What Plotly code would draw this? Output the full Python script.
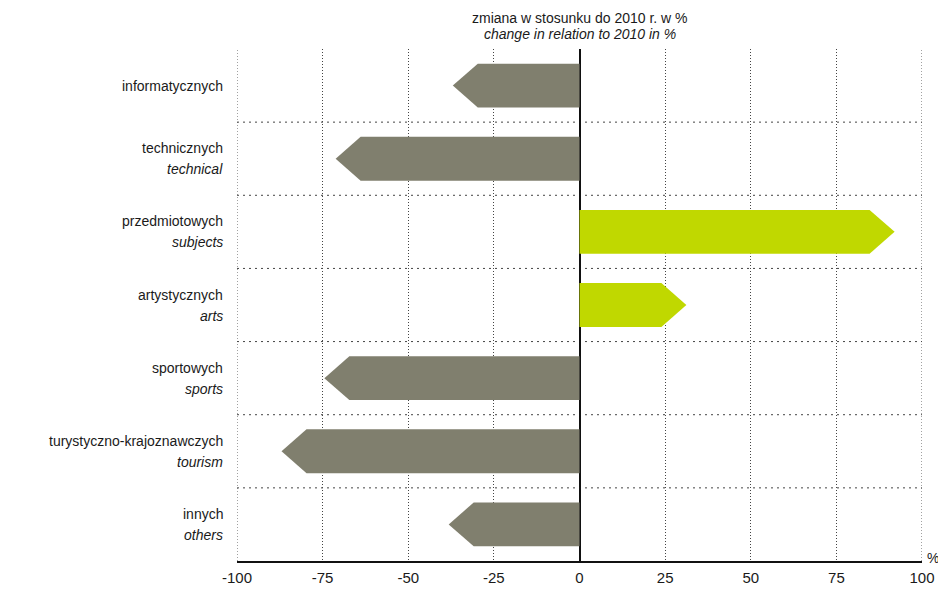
import plotly.graph_objects as go

categories_pl = ["informatycznych", "technicznych", "przedmiotowych", "artystycznych",
                 "sportowych", "turystyczno-krajoznawczych", "innych"]
categories_en = ["", "technical", "subjects", "arts", "sports", "tourism", "others"]
values = [-37, -71.2, 92, 31.2, -74.5, -87, -38.2]
x_ticks = [-100, -75, -50, -25, 0, 25, 50, 75, 100]

GRAY = "#807f6e"
GREEN = "#c0d800"
FONT = "Liberation Sans, Arial, sans-serif"
HALF = 0.3      # half bar thickness (category units)
HEAD = 7.3      # arrow head length (value units)

fig = go.Figure()
for i, v in enumerate(values):
    s = 1 if v > 0 else -1
    xs = [0, v - s * HEAD, v, v - s * HEAD, 0, 0]
    ys = [i - HALF, i - HALF, i, i + HALF, i + HALF, i - HALF]
    fig.add_trace(go.Scatter(x=xs, y=ys, mode="lines", fill="toself",
                             fillcolor=GREEN if v > 0 else GRAY,
                             line=dict(width=0, color=GREEN if v > 0 else GRAY),
                             hoverinfo="skip", showlegend=False))

# horizontal dotted separators between categories
for k in range(len(values) - 1):
    fig.add_shape(type="line", xref="x", yref="y", x0=-100, x1=100, y0=k + 0.5, y1=k + 0.5,
                  line=dict(color="#444", width=1, dash="2px,4px"), layer="below")

# dotted gridlines at the range edges (plotly hides edge gridlines)
for xv in (x_ticks[0], x_ticks[-1]):
    fig.add_shape(type="line", xref="x", yref="paper", x0=xv, x1=xv, y0=0, y1=1,
                  line=dict(color="#444", width=1, dash="1px,2px"), layer="below")

annotations = []
for i, (pl, en) in enumerate(zip(categories_pl, categories_en)):
    if en:
        annotations.append(dict(text=pl, x=0, xref="paper", y=i, yref="y", xanchor="right",
                                yanchor="middle", xshift=-12, yshift=10.5, showarrow=False,
                                font=dict(size=14)))
        annotations.append(dict(text="<i>" + en + "</i>", x=0, xref="paper", y=i, yref="y",
                                xanchor="right", yanchor="middle", xshift=-12, yshift=-10.5,
                                showarrow=False, font=dict(size=14)))
    else:
        annotations.append(dict(text=pl, x=0, xref="paper", y=i, yref="y", xanchor="right",
                                yanchor="middle", xshift=-12, showarrow=False,
                                font=dict(size=14)))

annotations += [
    dict(text="zmiana w stosunku do 2010 r. w %", x=0, xref="x", y=1, yref="paper",
         yanchor="bottom", yshift=21, showarrow=False, font=dict(size=14)),
    dict(text="<i>change in relation to 2010 in %</i>", x=0, xref="x", y=1, yref="paper",
         yanchor="bottom", yshift=5, showarrow=False, font=dict(size=14)),
    dict(text="%", x=1, xref="paper", y=0, yref="paper", xanchor="left", yanchor="middle",
         xshift=3, yshift=3, showarrow=False, font=dict(size=14)),
]

fig.update_layout(
    width=946, height=590,
    margin=dict(l=229, r=32, t=41, b=25),
    plot_bgcolor="white", paper_bgcolor="white",
    font=dict(family=FONT, size=14, color="#1a1a1a"),
    xaxis=dict(range=[-100, 100], tickvals=x_ticks, ticktext=[str(t) for t in x_ticks],
               showgrid=True, gridcolor="#444", griddash="1px,2px", gridwidth=1,
               zeroline=True, zerolinecolor="#111", zerolinewidth=1.5,
               showline=True, linecolor="#111", linewidth=1.5,
               ticks="", ticklabelstandoff=2, tickfont=dict(size=15, color="#1a1a1a")),
    yaxis=dict(range=[6.5, -0.5], showgrid=False, zeroline=False, showline=False,
               ticks="", showticklabels=False),
    annotations=annotations,
)

fig.write_html("out.html")
